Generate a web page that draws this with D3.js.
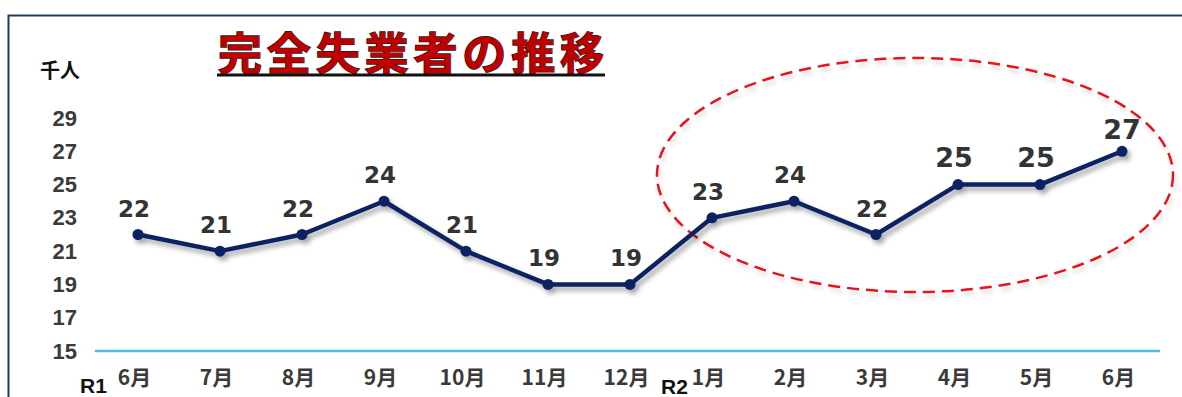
<!DOCTYPE html>
<html>
<head>
<meta charset="utf-8">
<script src="https://cdn.jsdelivr.net/npm/d3@7"></script>
<style>
  body { margin: 0; background: #fff; }
  svg { display: block; }
</style>
</head>
<body>
<svg id="chart"></svg>
<script>
const width = 1182;
const height = 397;

// data
const months = ['6月', '7月', '8月', '9月', '10月', '11月', '12月', '1月', '2月', '3月', '4月', '5月', '6月'];
const values = [22, 21, 22, 24, 21, 19, 19, 23, 24, 22, 25, 25, 27];
const yTicks = [15, 17, 19, 21, 23, 25, 27, 29];
const eraLabels = [{ text: 'R1', index: 0 }, { text: 'R2', index: 7 }];
const bigLabels = [10, 11, 12]; // labels drawn larger inside the circle

const svg = d3.select('#chart').attr('width', width).attr('height', height);

const defs = svg.append('defs');
const shadow = defs.append('filter').attr('id', 'shadow')
    .attr('x', '-10%').attr('y', '-30%').attr('width', '130%').attr('height', '180%');
shadow.append('feDropShadow')
    .attr('dx', 3).attr('dy', 4).attr('stdDeviation', 2.5)
    .attr('flood-color', '#000').attr('flood-opacity', 0.35);

// frame (top + left edge)
svg.append('path')
    .attr('d', `M8.5,${height} L8.5,15.5 L${width},15.5`)
    .attr('fill', 'none')
    .attr('stroke', '#22385e')
    .attr('stroke-width', 2);

const x = d3.scalePoint()
    .domain(d3.range(months.length))
    .range([138, 1122]);

const y = d3.scaleLinear()
    .domain([15, 29])
    .range([351, 118]);

// y axis labels
const yAxis = svg.append('g')
    .attr('transform', 'translate(77,0)')
    .call(d3.axisLeft(y).tickValues(yTicks).tickSize(0).tickPadding(0));
yAxis.select('.domain').remove();
yAxis.selectAll('text')
    .attr('font-family', '"Liberation Sans Narrow", "Liberation Sans", sans-serif')
    .attr('font-weight', 'bold')
    .attr('font-size', 22)
    .attr('fill', '#3a3a3a');

svg.append('text')
    .attr('x', 60).attr('y', 78)
    .attr('text-anchor', 'middle')
    .attr('font-family', '"Noto Sans CJK JP", sans-serif')
    .attr('font-weight', 'bold')
    .attr('font-size', 20)
    .attr('fill', '#111')
    .text('千人');

// baseline
svg.append('line')
    .attr('x1', 95).attr('x2', 1160)
    .attr('y1', y(15)).attr('y2', y(15))
    .attr('stroke', '#4dbde6')
    .attr('stroke-width', 2.5);

// x axis labels
const xAxis = svg.append('g')
    .attr('transform', `translate(-4,${y(15)})`)
    .call(d3.axisBottom(x).tickFormat(i => months[i]).tickSize(0).tickPadding(19));
xAxis.select('.domain').remove();
xAxis.selectAll('text')
    .attr('font-family', '"Liberation Sans Narrow", "Noto Sans CJK JP", sans-serif')
    .attr('font-weight', 'bold')
    .attr('font-size', 21)
    .attr('fill', '#3a3a3a');

svg.selectAll('.era')
    .data(eraLabels)
    .enter().append('text')
    .attr('class', 'era')
    .attr('x', d => x(d.index) - (d.index === 0 ? 58 : 51))
    .attr('y', d => d.index === 0 ? 393 : 394)
    .attr('font-family', '"Liberation Sans Narrow", "Liberation Sans", sans-serif')
    .attr('font-weight', 'bold')
    .attr('font-size', 21)
    .attr('fill', '#111')
    .text(d => d.text);

// title
svg.append('text')
    .attr('x', 218).attr('y', 70)
    .attr('font-family', '"Noto Sans CJK JP", sans-serif')
    .attr('font-weight', 'bold')
    .attr('font-size', 44)
    .attr('textLength', 386)
    .attr('lengthAdjust', 'spacing')
    .attr('fill', '#c00000')
    .attr('stroke', '#1a1a1a')
    .attr('stroke-width', 1.4)
    .attr('paint-order', 'stroke')
    .text('完全失業者の推移');
svg.append('line')
    .attr('x1', 217).attr('x2', 605)
    .attr('y1', 75).attr('y2', 75)
    .attr('stroke', '#111')
    .attr('stroke-width', 3);

// dashed ellipse
const ellipse = svg.append('g');
ellipse.append('ellipse')
    .attr('cx', 917).attr('cy', 179)
    .attr('rx', 258).attr('ry', 117)
    .attr('fill', 'none')
    .attr('stroke', '#bbb')
    .attr('stroke-width', 3)
    .attr('stroke-dasharray', '12 7')
    .attr('opacity', 0.5)
    .attr('filter', 'blur(2px)');
ellipse.append('ellipse')
    .attr('cx', 915).attr('cy', 175)
    .attr('rx', 258).attr('ry', 117)
    .attr('fill', 'none')
    .attr('stroke', '#e8141c')
    .attr('stroke-width', 2.5)
    .attr('stroke-dasharray', '12 7');

// line + markers
const line = d3.line()
    .x((d, i) => x(i))
    .y(d => y(d));

const series = svg.append('g').attr('filter', 'url(#shadow)');
series.append('path')
    .datum(values)
    .attr('d', line)
    .attr('fill', 'none')
    .attr('stroke', '#0b2464')
    .attr('stroke-width', 4.5)
    .attr('stroke-linejoin', 'round');
series.selectAll('circle')
    .data(values)
    .enter().append('circle')
    .attr('cx', (d, i) => x(i))
    .attr('cy', d => y(d))
    .attr('r', 5.5)
    .attr('fill', '#0b2464');

// data labels
svg.selectAll('.val')
    .data(values)
    .enter().append('text')
    .attr('class', 'val')
    .attr('x', (d, i) => x(i) - (i === 12 ? 0 : 4))
    .attr('y', (d, i) => y(d) - (i === 12 ? 12 : 18))
    .attr('text-anchor', 'middle')
    .attr('font-family', '"DejaVu Sans", sans-serif')
    .attr('font-weight', 'bold')
    .attr('font-size', (d, i) => bigLabels.includes(i) ? 27 : 23)
    .attr('fill', '#333')
    .text(d => d);
</script>
</body>
</html>
